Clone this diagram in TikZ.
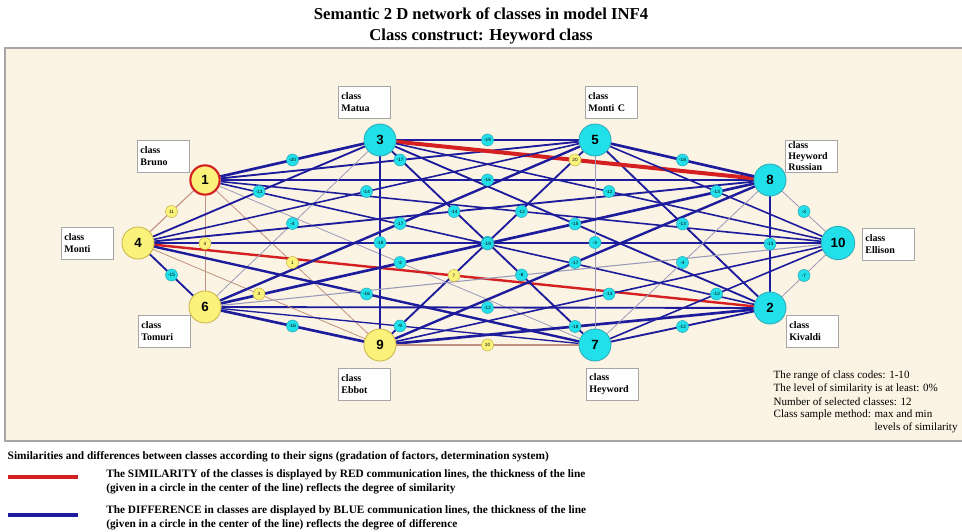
\documentclass[tikz,border=0pt]{standalone}
\usepackage{fontspec}
\setmainfont{Liberation Serif}
\newfontfamily\numfont{Liberation Sans}
\usetikzlibrary{calc}

\definecolor{panelcream}{HTML}{FBF3E3}
\definecolor{nodecyan}{HTML}{22E0EA}
\definecolor{cyanrim}{HTML}{2AA8B8}
\definecolor{nodeyellow}{HTML}{FAF27A}
\definecolor{yellowrim}{HTML}{C8B448}
\definecolor{diffblue}{HTML}{1C1C9C}
\definecolor{simred}{HTML}{D42020}
\definecolor{weakred}{HTML}{C0917E}
\definecolor{weakblue}{HTML}{9A9AB8}

\pgfdeclarelayer{panel}
\pgfdeclarelayer{links}
\pgfsetlayers{panel,links,main}

% a/b/width/kind/value  (D blue, S red, G faint blue, R faint red)
\def\classlinks{1/3/2.0/D/-20, 1/5/1.4/D/-17, 1/8/1.6/D/-16, 1/10/1.2/D/-12,
  1/2/1.2/D/-11, 1/7/0.6/G/-2, 1/6/0.7/R/4, 1/4/0.8/R/11, 1/9/0.6/R/1,
  2/3/1.4/D/-15, 2/4/1.8/S/7, 2/5/1.4/D/-13, 2/6/1.4/D/-12, 2/7/1.4/D/-12,
  2/8/1.4/D/-13, 2/9/2.0/D/-18, 2/10/0.6/G/-7, 3/4/1.4/D/-13, 3/5/2.0/D/-19,
  3/6/0.6/G/-4, 3/7/1.4/D/-14, 3/8/3.0/S/20, 3/9/1.4/D/-18, 3/10/1.2/D/-12,
  4/5/1.2/D/-14, 4/6/1.4/D/-15, 4/7/1.8/D/-16, 4/8/1.4/D/-14, 4/9/0.6/R/3,
  4/10/1.2/D/-13, 5/6/1.8/D/-17, 5/7/0.6/G/-3, 5/8/2.0/D/-18, 5/9/1.4/D/-14,
  5/10/1.2/D/-13, 6/7/1.0/D/-9, 6/8/2.0/D/-19, 6/9/2.0/D/-16, 6/10/0.8/G/-8,
  7/8/0.6/G/-4, 7/9/0.8/R/10, 7/10/1.2/D/-12, 8/9/1.8/D/-17, 8/10/0.6/G/-3,
  9/10/1.2/D/-13}

\begin{document}
\begin{tikzpicture}[x=0.75pt, y=-0.75pt,
	cls/.style={circle, draw=cyanrim, fill=nodecyan, line width=0.6pt, minimum size=24pt,
		inner sep=0pt, font=\numfont\bfseries\fontsize{10}{10}\selectfont},
	clsY/.style={cls, draw=yellowrim, fill=nodeyellow},
	tag/.style={draw=gray!70, fill=white, line width=0.6pt, minimum width=39pt, minimum height=24pt,
		text width=34pt, align=left, inner sep=0pt, font=\bfseries\fontsize{7.5}{9}\selectfont},
	D/.style={draw=diffblue}, S/.style={draw=simred},
	G/.style={draw=weakblue}, R/.style={draw=weakred},
	lD/.style={circle, fill=nodecyan, draw=cyanrim, line width=0.4pt, minimum size=9pt,
		inner sep=0pt, font=\numfont\fontsize{3.5}{3.5}\selectfont},
	lG/.style={lD}, lS/.style={lD, fill=nodeyellow, draw=yellowrim}, lR/.style={lS},
	info/.style={anchor=west, font=\fontsize{8.3}{9.75}\selectfont, align=left},
	legend/.style={anchor=north west, font=\bfseries\fontsize{8.5}{10.5}\selectfont, align=left, inner sep=0pt}]
	\useasboundingbox (0,0) rectangle (962,531);

	% title
	\node[font=\bfseries\fontsize{12.5}{16}\selectfont, align=center] (title) at (481,26)
		{Semantic 2 D network of classes in model INF4\\Class construct: Heyword class};

	% panel
	\begin{pgfonlayer}{panel}
		\fill[panelcream] (5,48) rectangle (962,441);
		\draw[gray!70, line width=1.2pt] (962,48) -- (5,48) -- (5,441) -- (962,441);
	\end{pgfonlayer}

	% classes
	\node[clsY, draw=simred, line width=1.6pt, minimum size=22pt] (n1) at (205,180) {1};
	\node[cls] (n2) at (770,308) {2};
	\node[cls] (n3) at (380,140) {3};
	\node[clsY] (n4) at (138,243) {4};
	\node[cls] (n5) at (595,140) {5};
	\node[clsY] (n6) at (205,307) {6};
	\node[cls] (n7) at (595,345) {7};
	\node[cls] (n8) at (770,180) {8};
	\node[clsY] (n9) at (380,345) {9};
	\node[cls, minimum size=25pt] (n10) at (838,243) {10};

	\node[tag] (t1) at (163,156) {class\\Bruno};
	\node[tag] (t2) at (812,331) {class\\Kivaldi};
	\node[tag] (t3) at (364,102) {class\\Matua};
	\node[tag] (t4) at (87,243) {class\\Monti};
	\node[tag] (t5) at (611,102) {class\\Monti C};
	\node[tag] (t6) at (164,331) {class\\Tomuri};
	\node[tag] (t7) at (612,384) {class\\Heyword};
	\node[tag, font=\bfseries\fontsize{7.5}{8}\selectfont] (t8) at (811,156) {class\\Heyword\\Russian};
	\node[tag] (t9) at (364,384) {class\\Ebbot};
	\node[tag] (t10) at (888,244) {class\\Ellison};

	% links and their weights
	\begin{pgfonlayer}{links}
		\foreach \a/\b/\w/\k/\v in \classlinks
			\draw[\k, line width=\w pt] (n\a) -- (n\b);
		\foreach \a/\b/\w/\k/\v in \classlinks
			\node[l\k] (w\a-\b) at ($(n\a)!.5!(n\b)$) {\v};
	\end{pgfonlayer}

	% selection info
	\node[info] (i1) at (769,376) {The range of class codes: 1-10};
	\node[info] (i2) at (769,389) {The level of similarity is at least: 0\%};
	\node[info] (i3) at (769,402) {Number of selected classes: 12};
	\node[info] (i4) at (769,415) {Class sample method: max and min};
	\node[info] (i5) at (769,428) {\phantom{Class sample method: }levels of similarity};

	% legend
	\node[anchor=west, font=\bfseries\fontsize{8.5}{9}\selectfont] (lg) at (3,457)
		{Similarities and differences between classes according to their signs (gradation of factors, determination system)};
	\draw[simred, line width=3pt] (8,477) -- (78,477);
	\draw[diffblue, line width=3pt] (8,515) -- (78,515);
	\node[legend] (lgS) at (106,469)
		{The SIMILARITY of the classes is displayed by RED communication lines, the thickness of the line\\
		(given in a circle in the center of the line) reflects the degree of similarity};
	\node[legend] (lgD) at (106,505)
		{The DIFFERENCE in classes are displayed by BLUE communication lines, the thickness of the line\\
		(given in a circle in the center of the line) reflects the degree of difference};
\end{tikzpicture}
\end{document}
